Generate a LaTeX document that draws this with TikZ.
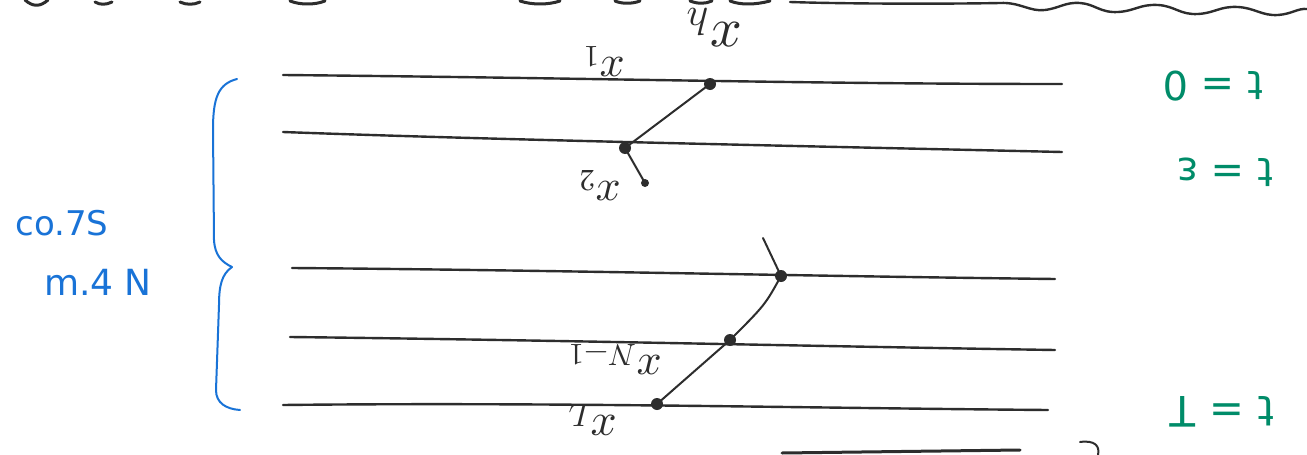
\documentclass[tikz,border=0pt]{standalone}
\usepackage{fontspec}
\usepackage{unicode-math}
\setmathfont{Latin Modern Math}
\newfontfamily\handsans{DejaVu Sans}
\definecolor{ink}{RGB}{45,45,45}
\definecolor{grn}{RGB}{0,140,105}
\definecolor{blu}{RGB}{25,115,215}
\begin{document}
\begin{tikzpicture}[x=1pt,y=-1pt, line cap=round, line join=round,
 rule/.style={draw=ink, line width=2.4pt},
 trail/.style={draw=ink, line width=2pt},
 dot/.style={circle, fill=ink, inner sep=0pt, minimum size=12pt},
 sdot/.style={circle, fill=ink, inner sep=0pt, minimum size=8pt},
 lbl/.style={rotate=180, text=ink, font=\fontsize{44}{48}\selectfont, inner sep=0pt},
 tlbl/.style={rotate=180, text=grn, font=\handsans\fontsize{40}{44}\selectfont, inner sep=0pt},
 blbl/.style={text=blu, font=\handsans\fontsize{34}{38}\selectfont, inner sep=0pt}]
\useasboundingbox[fill=white] (0,0) rectangle (1307,455);
% edge strokes at top
\draw[ink, line width=3pt] (25,0) .. controls (33,7) and (40,7) .. (48,0);
\draw[ink, line width=3pt] (95,2) .. controls (100,5) and (106,5) .. (112,2);
\draw[ink, line width=3pt] (180,2) .. controls (186,5) and (194,5) .. (200,2);
\draw[ink, line width=3pt] (290,1) .. controls (300,5) and (315,5) .. (325,1);
\draw[ink, line width=3pt] (520,1) .. controls (532,5) and (548,5) .. (560,1);
\draw[ink, line width=3pt] (615,1) .. controls (622,4) and (632,4) .. (640,1);
\draw[ink, line width=3pt] (690,1) .. controls (698,4) and (705,4) .. (712,1);
\draw[ink, line width=3pt] (730,1) .. controls (740,5) and (755,5) .. (770,1);
\draw[ink, line width=2.4pt] (790,2) .. controls (850,4) and (950,4) .. (1000,3)
  .. controls (1020,2) and (1030,12) .. (1045,10)
  .. controls (1060,8) and (1065,2) .. (1080,3)
  .. controls (1095,4) and (1100,13) .. (1118,12)
  .. controls (1135,11) and (1140,4) .. (1158,5)
  .. controls (1175,6) and (1180,15) .. (1198,14)
  .. controls (1215,13) and (1220,6) .. (1238,7)
  .. controls (1255,8) and (1262,16) .. (1278,15)
  .. controls (1292,14) and (1298,8) .. (1307,9);
% bottom edge strokes
\draw[ink, line width=3pt] (782,453) -- (1020,450);
\draw[ink, line width=2pt] (1080,442) .. controls (1095,440) and (1100,446) .. (1098,455);
% time lines
\coordinate (l1a) at (283,75);  \coordinate (l1b) at (1062,84);
\coordinate (l2a) at (283,132); \coordinate (l2b) at (1062,152);
\coordinate (l3a) at (292,268); \coordinate (l3b) at (1055,279);
\coordinate (l4a) at (290,337); \coordinate (l4b) at (1055,350);
\coordinate (l5a) at (283,405); \coordinate (l5b) at (1048,410);
\draw[rule] (l1a) .. controls (600,78) and (800,84) .. (l1b);
\draw[rule] (l2a) .. controls (500,140) and (800,146) .. (l2b);
\draw[rule] (l3a) .. controls (550,270) and (800,276) .. (l3b);
\draw[rule] (l4a) .. controls (550,340) and (800,346) .. (l4b);
\draw[rule] (l5a) .. controls (550,402) and (800,408) .. (l5b);
% points
\node[dot] (p1) at (710,84) {};
\node[dot] (p2) at (625,148) {};
\node[sdot] (p3) at (645,183) {};
\coordinate (q0) at (763,238);
\node[dot] (p4) at (781,276) {};
\node[dot] (p5) at (730,340) {};
\node[dot] (p6) at (657,404) {};
\draw[trail] (p1.center) -- (p2.center) -- (p3.center);
\draw[trail] (q0) -- (p4.center) .. controls (765,305) .. (p5.center) -- (p6.center);
% point labels (upside down)
\node[lbl] (xa) at (604,62) {$x_1$};
\node[lbl, font=\fontsize{56}{60}\selectfont] (xb) at (714,28) {$x_h$};
\node[lbl] (xc) at (600,186) {$x_2$};
\node[lbl] (xd) at (615,360) {$x_{N-1}$};
\node[lbl, font=\fontsize{46}{50}\selectfont] (xe) at (592,420) {$x_L$};
% time labels
\node[tlbl] (t0) at (1213,86) {t = 0};
\node[tlbl] (te) at (1225,172) {t = ε};
\node[tlbl, font=\handsans\fontsize{42}{46}\selectfont] (tT) at (1222,412) {t = T};
% brace
\draw[blu, line width=2pt] (237,79) .. controls (218,84) and (213,98) .. (213,130)
  -- (214,240) .. controls (215,256) and (222,262) .. (232,267)
  .. controls (222,274) and (219,285) .. (219,305)
  -- (216,390) .. controls (216,403) and (226,409) .. (240,410);
\node[blbl] (n1) at (62,223) {co.7S};
\node[blbl, font=\handsans\fontsize{36}{40}\selectfont] (n2) at (98,282) {m.4 N};
\end{tikzpicture}
\end{document}
